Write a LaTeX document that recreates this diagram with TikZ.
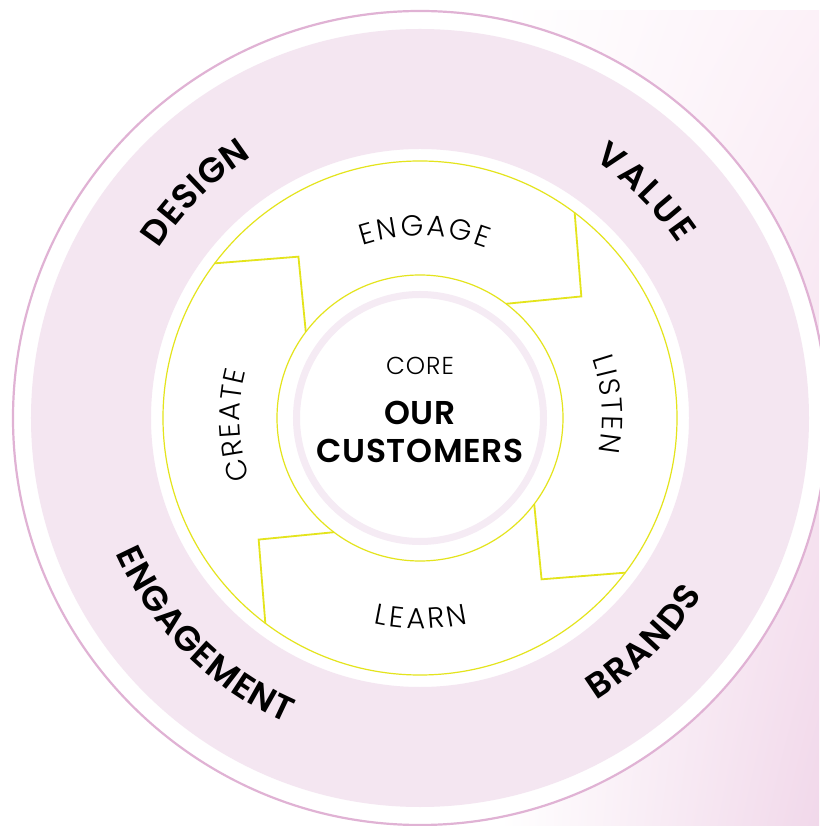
\documentclass[tikz,border=0pt]{standalone}
\usepackage{fontspec}
\setmainfont{Poppins Light}
\newfontfamily\heavyface{Poppins SemiBold}[LetterSpace=2]
\newfontfamily\lightface{Poppins Light}[LetterSpace=4]
\usetikzlibrary{decorations.text,shadings}

\definecolor{ringpink}{HTML}{F4E6F1}
\definecolor{rimpink}{HTML}{E0B2D4}
\definecolor{softpink}{HTML}{F5EBF4}
\definecolor{cornerpink}{HTML}{F1D8EA}
\definecolor{toppink}{HTML}{FCF1F8}
\definecolor{lemon}{HTML}{E4E41C}

\newcommand\bandfont{\heavyface\fontsize{35}{35}\selectfont}
\newcommand\stepfont{\lightface\fontsize{29}{29}\selectfont}
\newcommand\corefont{\lightface\fontsize{24.5}{24.5}\selectfont}
\newcommand\ourfont{\heavyface\fontsize{33}{33}\selectfont}

% text bent along an arc: font, text, radius, start angle, end angle
\newcommand\arclabel[5]{%
  \path[decorate, decoration={text along path, text={|#1|#2},
    text align=fit to path}] (#4:#3) arc[start angle=#4, end angle=#5, radius=#3];}

\tikzset{
  rim/.style={draw=rimpink, line width=2.2pt},
  loop/.style={draw=lemon, line width=1.2pt},
  notch/.style={draw=lemon, line width=1.8pt, line join=miter},
  word/.style={inner sep=0pt, text=black}
}

\begin{document}
\begin{tikzpicture}[x=1pt, y=1pt]
\useasboundingbox (-420,-408) rectangle (399,418);
\fill[white] (-420,-408) rectangle (399,418);
\shade[upper left=white, upper right=toppink, lower left=white, lower right=cornerpink]
  (80,407) rectangle (399,-408);

% Rings
\fill[white] (0,0) circle (407);
\draw[rim] (0,0) circle (407);
\fill[ringpink, even odd rule] (0,0) circle (389) (0,0) circle (269);
\draw[loop] (0,0) circle (257);
\draw[loop] (0,0) circle (143);
\draw[softpink, line width=7pt] (0,0) circle (123.5);

% Notches between the steps
\foreach \a in {0,90,180,270}
  \draw[notch] (143-\a:257) -- (127-\a:202) -- (143-\a:143);

% Centre
\node[word, font=\corefont] (core) at (0,52) {CORE};
\node[word, font=\ourfont] (our) at (0,5.5) {OUR};
\node[word, font=\ourfont] (customers) at (0,-33) {CUSTOMERS};

% Steps
\arclabel{\stepfont}{ENGAGE}{182}{108.4}{68.7}
\arclabel{\stepfont}{LISTEN}{182}{19.1}{-10.8}
\arclabel{\stepfont}{LEARN}{211}{257.4}{283.1}
\arclabel{\stepfont}{CREATE}{180}{199.5}{165}

% Outer band
\arclabel{\bandfont}{DESIGN}{311}{147}{122.8}
\arclabel{\bandfont}{VALUE}{311}{56}{34}
\arclabel{\bandfont}{ENGAGEMENT}{333}{204}{246.5}
\arclabel{\bandfont}{BRANDS}{333}{302}{328}
\end{tikzpicture}
\end{document}
